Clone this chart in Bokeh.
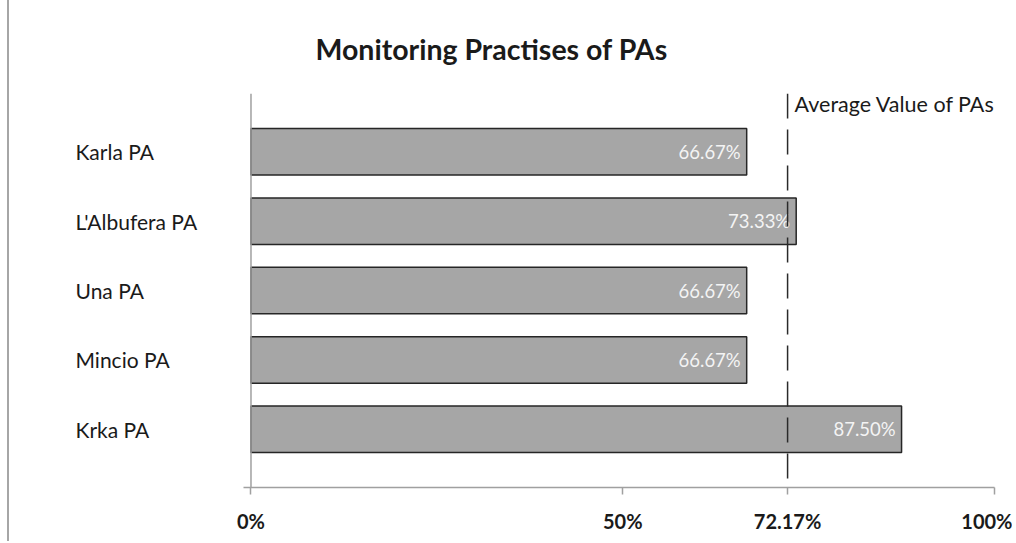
from bokeh.plotting import figure
from bokeh.models import (Range1d, FixedTicker, Span, Label, LabelSet, ColumnDataSource, LinearAxis)
from bokeh.core.properties import value
from bokeh.embed import file_html
from bokeh.resources import INLINE

# ---- data ----
categories = ["Karla PA", "L'Albufera PA", "Una PA", "Mincio PA", "Krka PA"]
values = [66.67, 73.33, 66.67, 66.67, 87.50]
bar_labels = ["66.67%", "73.33%", "66.67%", "66.67%", "87.50%"]
average_value = 72.17
x_ticks = [0, 50, 72.17, 100]
x_tick_labels = ["0%", "50%", "72.17%", "100%"]
title_text = "Monitoring Practises of PAs"
avg_text = "Average Value of PAs"

n = len(categories)
ypos = list(range(n, 0, -1))  # top to bottom

FONT = "Lato"
TXT = "#1a1a1a"
GRAY = "#a0a0a0"

p = figure(width=1005, height=541, output_backend="svg", toolbar_location=None,
           x_range=Range1d(-32.48, 100), y_range=Range1d(0.161, 5.84),
           min_border_left=0, min_border_right=20, min_border_top=93, min_border_bottom=54,
           x_axis_location=None, y_axis_location=None)
p.outline_line_color = None
p.xgrid.visible = False
p.ygrid.visible = False
p.styles = {"border-left": "2px solid #a6a6a6", "margin-left": "7px"}

# title
p.title.text = title_text
p.title.align = "left"
p.title.offset = 306
p.title.text_font = FONT
p.title.text_font_style = "bold"
p.title.text_font_size = "28.5px"
p.title.text_color = TXT
p.title.standoff = 56

src = ColumnDataSource(dict(y=ypos, v=values, lab=bar_labels, cat=categories))

p.hbar(y="y", left=0, right="v", height=0.67, source=src,
       fill_color="#a6a6a6", line_color="#262626", line_width=1.5)

p.add_layout(LabelSet(x="v", y="y", text="lab", source=src, x_offset=-6,
                      text_align="right", text_baseline="middle",
                      text_color="#f4f4f4", text_font=value(FONT), text_font_size="18.5px"))

# y axis line (value axis origin)
p.add_layout(Span(location=0, dimension="height", line_color=GRAY, line_width=1.5))

# average line
p.add_layout(Span(location=average_value, dimension="height", line_color="#2a2a2a",
                  line_width=1.5, line_dash="25 11"))

# x axis
xax = LinearAxis(ticker=FixedTicker(ticks=x_ticks), bounds=(-1, 100),
                 major_label_overrides={t: l for t, l in zip(x_ticks, x_tick_labels)})
xax.axis_line_color = GRAY
xax.axis_line_width = 1.5
xax.major_tick_line_color = GRAY
xax.major_tick_line_width = 1.5
xax.major_tick_out = 7
xax.major_tick_in = 0
xax.minor_tick_out = 0
xax.minor_tick_in = 0
xax.major_label_standoff = 14
xax.major_label_text_font = FONT
xax.major_label_text_font_style = "bold"
xax.major_label_text_font_size = "20px"
xax.major_label_text_color = TXT
p.add_layout(xax, "below")

# category labels (left aligned)
for cat, y in zip(categories, ypos):
    p.add_layout(Label(x=-23.6, y=y, text=cat, text_align="left", text_baseline="middle",
                       text_font=FONT, text_font_size="21px", text_color=TXT))

# average label
p.add_layout(Label(x=average_value, y=5.69, x_offset=7, text=avg_text, text_align="left",
                   text_baseline="middle", text_font=FONT, text_font_size="21.5px",
                   text_color=TXT))

open("out.html", "w").write(file_html(p, INLINE))
